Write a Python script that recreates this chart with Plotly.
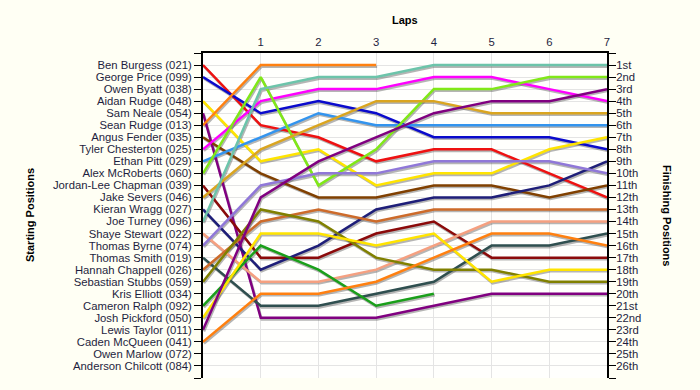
import plotly.graph_objects as go

drivers = ["Ben Burgess (021)", "George Price (099)", "Owen Byatt (038)", "Aidan Rudge (048)",
           "Sam Neale (054)", "Sean Rudge (013)", "Angus Fender (035)", "Tyler Chesterton (025)",
           "Ethan Pitt (029)", "Alex McRoberts (060)", "Jordan-Lee Chapman (039)", "Jake Severs (046)",
           "Kieran Wragg (027)", "Joe Turney (096)", "Shaye Stewart (022)", "Thomas Byrne (074)",
           "Thomas Smith (019)", "Hannah Chappell (026)", "Sebastian Stubbs (059)", "Kris Elliott (034)",
           "Cameron Ralph (092)", "Josh Pickford (050)", "Lewis Taylor (011)", "Caden McQueen (041)",
           "Owen Marlow (072)", "Anderson Chilcott (084)"]

N = None
lap1 = [6, 5, N, 9, 22, 1, 10, 4, 7, 2, 17, 8, 18, 3, 19, 11, 21, 14, 13, N, 16, 15, 12, 20, N, N]
lap2 = [7, 4, N, 8, 22, 1, 12, 3, 5, 11, 17, 6, 16, 2, 19, 10, 21, 13, 14, N, 18, 15, 9, 20, N, N]
lap3 = [9, 5, N, 11, 22, 1, 12, 3, 6, 8, 15, 4, 13, 2, 18, 10, 20, 14, 17, N, 21, 16, 7, 19, N, N]
lap4 = [8, 7, N, 10, 21, N, 11, 2, 6, 3, 14, 4, 12, 1, 16, 9, 19, 13, 18, N, 20, 15, 5, 17, N, N]
lap5 = [8, 7, N, 10, 20, N, 11, 2, 6, 3, 17, 5, 12, 1, 14, 9, 16, 13, 18, N, N, 19, 4, 15, N, N]
lap6 = [10, 7, N, 8, 20, N, 12, 3, 6, 2, 17, 5, 11, 1, 14, 9, 16, 13, 19, N, N, 18, 4, 15, N, N]
lap7 = [12, 8, N, 7, 20, N, 11, 4, 6, 2, 17, 5, 9, 1, 14, 10, 15, 13, 19, N, N, 18, 3, 16, N, N]

colors = ["#EE1111", "#0A0ACC", None, "#FFE400", "#800080", "#FF8010", "#804000", "#FF00FF",
          "#3394EE", "#80E818", "#8B0A0A", "#DAA520", "#1E1E78", "#6CC4AA", "#F5A080", "#9078D8",
          "#2F4F4F", "#CD6B2A", "#808000", None, "#1A9F1A", "#FFE400", "#800080", "#FF8010",
          None, None]

laps = [0, 1, 2, 3, 4, 5, 6, 7]
lap_labels = ["1", "2", "3", "4", "5", "6", "7"]


def ordinal(n):
    if 10 <= n % 100 <= 20:
        suf = "th"
    else:
        suf = {1: "st", 2: "nd", 3: "rd"}.get(n % 10, "th")
    return f"{n}{suf}"


n = len(drivers)
start_pos = list(range(1, n + 1))
finish_labels = [ordinal(p) for p in start_pos]
lap_table = [lap1, lap2, lap3, lap4, lap5, lap6, lap7]

TXT = "#1E1E40"
FONT = "Liberation Sans, Arial, sans-serif"
FS = 11.3

fig = go.Figure()

# anchor traces on the base subplot (invisible start / end markers)
fig.add_trace(go.Scatter(x=[laps[0]] * n, y=start_pos, mode="markers", xaxis="x", yaxis="y",
                         marker=dict(size=1, opacity=0), hoverinfo="skip", showlegend=False))
fig.add_trace(go.Scatter(x=[laps[-1]] * n, y=start_pos, mode="markers", xaxis="x", yaxis="y2",
                         marker=dict(size=1, opacity=0), hoverinfo="skip", showlegend=False))

px_x = 7 / 404.0
px_y = 27 / 325.0

series = []
for i in range(n):
    if colors[i] is None:
        continue
    ys = [start_pos[i]] + [lap_table[k][i] for k in range(7)]
    xs = [laps[j] for j in range(8) if ys[j] is not None]
    yv = [v for v in ys if v is not None]
    series.append((i, xs, yv))

for i, xs, yv in series:
    fig.add_trace(go.Scatter(x=xs, y=yv, mode="lines", xaxis="x3", yaxis="y3",
                             line=dict(color="rgba(90,90,90,0.45)", width=2.5),
                             hoverinfo="skip", showlegend=False))

for i, xs, yv in series:
    fig.add_trace(go.Scatter(x=xs, y=yv, mode="lines", xaxis="x4", yaxis="y4",
                             line=dict(color=colors[i], width=2.5),
                             name=drivers[i], showlegend=False))

tick_all = list(range(0, n + 2))
left_text = [""] + drivers + [""]
right_text = [""] + finish_labels + [""]

plot_w = 700 - 203 - 93
plot_h = 390 - 53 - 12

fig.update_layout(
    width=700, height=390,
    margin=dict(l=203, r=93, t=53, b=12, autoexpand=False),
    paper_bgcolor="#FFFFF4",
    plot_bgcolor="#FFFFFD",
    font=dict(family=FONT, size=FS, color=TXT),
    showlegend=False,
    xaxis=dict(range=[0, 7], side="top", tickvals=laps[1:], ticktext=lap_labels,
               showgrid=True, gridcolor="#E4E4E4", gridwidth=1, zeroline=False,
               showline=True, linecolor="black", linewidth=2, ticks="",
               tickfont=dict(size=FS, color=TXT), anchor="y", fixedrange=True),
    yaxis=dict(range=[n + 1, 0], tickvals=tick_all, ticktext=left_text,
               showgrid=True, gridcolor="#E4E4E4", gridwidth=1, zeroline=False,
               showline=True, linecolor="black", linewidth=2,
               ticks="outside", ticklen=7, tickwidth=1, tickcolor="black",
               tickfont=dict(size=FS, color=TXT), anchor="x", fixedrange=True),
    yaxis2=dict(range=[n + 1, 0], overlaying="y", side="right", anchor="x",
                tickvals=tick_all, ticktext=right_text, showgrid=False, zeroline=False,
                showline=True, linecolor="black", linewidth=2,
                ticks="outside", ticklen=7, tickwidth=1, tickcolor="black",
                ticklabelstandoff=-2,
                tickfont=dict(size=FS, color=TXT), fixedrange=True),
    xaxis3=dict(range=[0 - px_x, 7 - px_x], overlaying="x", anchor="y3", visible=False, fixedrange=True),
    yaxis3=dict(range=[n + 1 - 1.6 * px_y, -1.6 * px_y], overlaying="y", anchor="x3", visible=False, fixedrange=True),
    xaxis4=dict(range=[0, 7], overlaying="x", anchor="y4", visible=False, fixedrange=True),
    yaxis4=dict(range=[n + 1, 0], overlaying="y", anchor="x4", visible=False, fixedrange=True),
    annotations=[
        dict(text="<b>Laps</b>", xref="paper", yref="paper", showarrow=False,
             x=(405 - 203) / plot_w, y=(390 - 12 - 20) / plot_h, yanchor="middle",
             font=dict(size=11, color="black")),
        dict(text="<b>Starting Positions</b>", xref="paper", yref="paper",
             x=(30 - 203) / plot_w, xanchor="center", y=(390 - 12 - 215) / plot_h,
             showarrow=False, textangle=-90, font=dict(size=11, color="black")),
        dict(text="<b>Finishing Positions</b>", xref="paper", yref="paper",
             x=(667 - 203) / plot_w, xanchor="center", y=(390 - 12 - 215) / plot_h,
             showarrow=False, textangle=90, font=dict(size=11, color="black")),
    ],
)

fig.write_html("out.html", config={"displayModeBar": False},
               post_script="document.body.style.margin='0';document.body.style.background='#FFFFF4';")
